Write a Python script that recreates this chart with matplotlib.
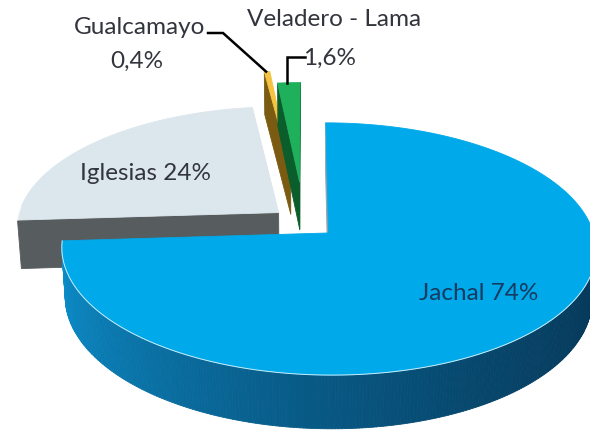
import numpy as np
import matplotlib
matplotlib.use('Agg')
import matplotlib.pyplot as plt
from matplotlib.patches import Polygon
from matplotlib.colors import to_rgb

plt.rcParams['font.family'] = ['Lato', 'DejaVu Sans']

# data
labels = ['Jachal', 'Iglesias', 'Gualcamayo', 'Veladero - Lama']
shares = [74.0, 24.0, 0.4, 1.6]
share_text = ['74%', '24%', '0,4%', '1,6%']

# styling per slice
top_colors = ['#00a9e9', '#dce7ed', '#f4c342', '#1fb05c']
side_light = ['#0c92d0', '#575c5f', '#7b5a12', '#0b5e2c']
side_dark = ['#06395a', '#575c5f', '#7b5a12', '#0b5e2c']
explode = [0.127, 0.127, 0.48, 0.345]  # radial offset, fraction of radius

# fake 3d camera (pixel space)
TILT = np.radians(27.6)
DIST = 7.06
FOCAL = 1850.0
CX, CY = 304.0, 222.3
HEIGHT = 0.212
CAM = np.array([0.0, -DIST * np.cos(TILT), DIST * np.sin(TILT)])


def depth(p):
    return p[1] * np.cos(TILT) - p[2] * np.sin(TILT)


def project(p):
    x, y, z = p
    v = y * np.sin(TILT) + z * np.cos(TILT)
    s = FOCAL / (DIST + depth(p))
    return (CX + x * s, CY - v * s)


def face(ax, pts3d, color, z):
    pts = [project(p) for p in pts3d]
    ax.add_patch(Polygon(pts, closed=True, facecolor=color, edgecolor=color,
                         lw=0.6, zorder=z, joinstyle='round'))


def mix(c1, c2, t):
    a, b = np.array(to_rgb(c1)), np.array(to_rgb(c2))
    return tuple(a + (b - a) * t)


fig = plt.figure(figsize=(5.9, 4.33), dpi=100)
ax = fig.add_axes([0, 0, 1, 1])
ax.set_xlim(0, 590)
ax.set_ylim(433, 0)
ax.axis('off')

total = sum(shares)
cum = np.concatenate([[0], np.cumsum(shares)])
slices = []
for i in range(len(shares)):
    a0 = 90 - 360 * cum[i] / total        # ccw end
    a1 = 90 - 360 * cum[i + 1] / total    # cw end
    mid = np.radians((a0 + a1) / 2)
    off = np.array([explode[i] * np.cos(mid), explode[i] * np.sin(mid), 0.0])
    # sort key: depth of a point half way out on the bisector
    key = depth(off + 0.5 * np.array([np.cos(mid), np.sin(mid), 0]))
    slices.append((key, i, a0, a1, off))

# farthest slice first
slices.sort(key=lambda s: -s[0])

zbase = 1
for key, i, a0, a1, off in slices:
    n = max(4, int(abs(a0 - a1) * 1.5))
    ts = np.radians(np.linspace(a1, a0, n))
    top = [off + np.array([np.cos(t), np.sin(t), 0]) for t in ts]
    bot = [p - np.array([0, 0, HEIGHT]) for p in top]
    vt = off
    vb = off - np.array([0, 0, HEIGHT])

    sides = []
    # outer wall in strips, darker towards the right
    for k in range(n - 1):
        tm = (ts[k] + ts[k + 1]) / 2
        nrm = np.array([np.cos(tm), np.sin(tm), 0])
        if np.dot(nrm, CAM - top[k]) <= 0:
            continue
        shade = mix(side_light[i], side_dark[i], ((1 + np.cos(tm)) / 2) ** 0.6)
        quad = [top[k], top[k + 1], bot[k + 1], bot[k]]
        sides.append((np.mean([depth(q) for q in quad]), quad, shade))
    # radial cut faces
    for ang, sign in ((np.radians(a0), 1), (np.radians(a1), -1)):
        nrm = sign * np.array([-np.sin(ang), np.cos(ang), 0])
        if np.dot(nrm, CAM - vt) <= 0:
            continue
        outer_t = vt + np.array([np.cos(ang), np.sin(ang), 0])
        outer_b = outer_t - np.array([0, 0, HEIGHT])
        quad = [vt, outer_t, outer_b, vb]
        col = side_light[i] if i != 0 else '#8fa3ad'
        sides.append((np.mean([depth(q) for q in quad]), quad, col))

    sides.sort(key=lambda s: -s[0])
    for _, quad, col in sides:
        face(ax, quad, col, zbase)
    zbase += 1
    face(ax, [vt] + top, top_colors[i], zbase)
    # thin light rim on the visible front edge
    if shares[i] > 5:
        rim = [project(p) for p, t in zip(top, ts) if np.sin(t) < 0.05]
        if rim:
            rx, ry = zip(*rim)
            ax.plot(rx, ry, color='white', lw=0.7, alpha=0.8, zorder=zbase)
    zbase += 1

    # leader anchor for small slices
    if i == 2:
        g_anchor = project(top[len(top) // 2])
    if i == 3:
        v_anchor = project(top[len(top) // 2])

txt_kw = dict(fontsize=17.5, ha='center', va='center', zorder=50)
ax.text(479, 293, f'{labels[0]} {share_text[0]}', color='#163a60', **txt_kw)
ax.text(146, 173, f'{labels[1]} {share_text[1]}', color='#33353d', **txt_kw)
ax.text(140, 28, labels[2], color='#33353d', **txt_kw)
ax.text(137, 61, share_text[2], color='#33353d', **txt_kw)
ax.text(334, 19, labels[3], color='#33353d', **txt_kw)
ax.text(330, 58, share_text[3], color='#33353d', **txt_kw)

# leader lines
ax.plot([208, 223, g_anchor[0]], [33, 33, g_anchor[1]], color='black', lw=1.8,
        zorder=60, solid_joinstyle='miter')
ax.plot([305, v_anchor[0], v_anchor[0]], [57, 57, v_anchor[1]], color='black',
        lw=1.8, zorder=60, solid_joinstyle='miter')

fig.savefig('out.png', dpi=100)
